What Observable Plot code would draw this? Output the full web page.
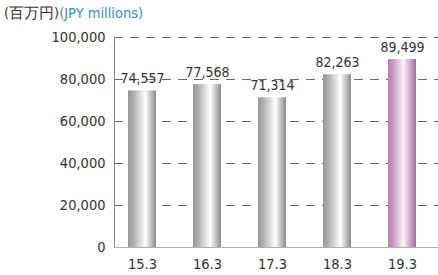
<!DOCTYPE html>
<html><head><meta charset="utf-8">
<script src="https://cdn.jsdelivr.net/npm/d3@7"></script>
<script src="https://cdn.jsdelivr.net/npm/@observablehq/plot@0.6"></script>
<style>
body{margin:0;background:#fff;font-family:"DejaVu Sans Condensed","DejaVu Sans",sans-serif;font-stretch:condensed;}
#title{height:26px;font-size:14.5px;line-height:15px;padding:6px 0 0 4px;box-sizing:border-box;color:#333;white-space:nowrap;}
#title .en{color:#3a8dc4;}
</style></head>
<body>
<div id="title">(百万円)<span class="en">(JPY millions)</span></div>
<div id="chart"></div>
<script>
const years = ["15.3","16.3","17.3","18.3","19.3"];
const values = [74557, 77568, 71314, 82263, 89499];
const highlight = [false, false, false, false, true];
const yTicks = [0, 20000, 40000, 60000, 80000, 100000];

const data = years.map((y, i) => ({year: y, value: values[i], hl: highlight[i]}));
const FONT = "'DejaVu Sans Condensed', 'DejaVu Sans', sans-serif";

const plot = Plot.plot({
  width: 438,
  height: 249,
  marginTop: 11,
  marginBottom: 28,
  marginLeft: 114,
  marginRight: 8,
  style: {fontFamily: FONT, fontSize: "14.5px", color: "#333", fontStretch: "condensed"},
  x: {domain: years, paddingInner: 0.57, paddingOuter: 0.215, label: null, tickSize: 0, tickPadding: 11},
  y: {domain: [0, 100000], label: null, ticks: yTicks, tickSize: 0, tickPadding: 9, tickFormat: d3.format(",")},
  marks: [
    () => {
      const svg = d3.create("svg:defs");
      const g1 = svg.append("linearGradient").attr("id", "gGray").attr("x1", 0).attr("x2", 1).attr("y1", 0).attr("y2", 0);
      [[0, "#979797"], [0.2, "#b0b0b0"], [0.62, "#ffffff"], [1, "#8a8a8a"]].forEach(([o, c]) => g1.append("stop").attr("offset", o).attr("stop-color", c));
      const g2 = svg.append("linearGradient").attr("id", "gPurple").attr("x1", 0).attr("x2", 1).attr("y1", 0).attr("y2", 0);
      [[0, "#b57fae"], [0.2, "#c99ac4"], [0.55, "#fbf3fa"], [1, "#a16a9b"]].forEach(([o, c]) => g2.append("stop").attr("offset", o).attr("stop-color", c));
      return svg.node();
    },
    (index, scales, values, dims) => {
      const g = d3.create("svg:g");
      yTicks.filter(d => d > 0).forEach(t => {
        const y = Math.round(scales.y(t)) + 0.5;
        g.append("line").attr("x1", dims.marginLeft).attr("x2", dims.width)
          .attr("y1", y).attr("y2", y)
          .attr("stroke", "#666").attr("stroke-dasharray", "9,7");
      });
      return g.node();
    },
    Plot.barY(data, {x: "year", y: "value", fill: d => d.hl ? "url(#gPurple)" : "url(#gGray)"}),
    (index, scales, values, dims) => {
      const g = d3.create("svg:g");
      const y0 = Math.round(scales.y(0)) + 0.5;
      const y1 = Math.round(scales.y(100000)) + 0.5;
      const x0 = dims.marginLeft + 0.5;
      g.append("line").attr("x1", x0).attr("x2", dims.width).attr("y1", y0).attr("y2", y0).attr("stroke", "#b0b0b0");
      g.append("line").attr("x1", x0).attr("x2", x0).attr("y1", y1).attr("y2", y0).attr("stroke", "#888");
      return g.node();
    },
    Plot.text(data, {x: "year", y: "value", text: d => d3.format(",")(d.value), dy: -12, fill: "#333", fontSize: 14})
  ]
});
document.getElementById("chart").appendChild(plot);
</script>
</body></html>
